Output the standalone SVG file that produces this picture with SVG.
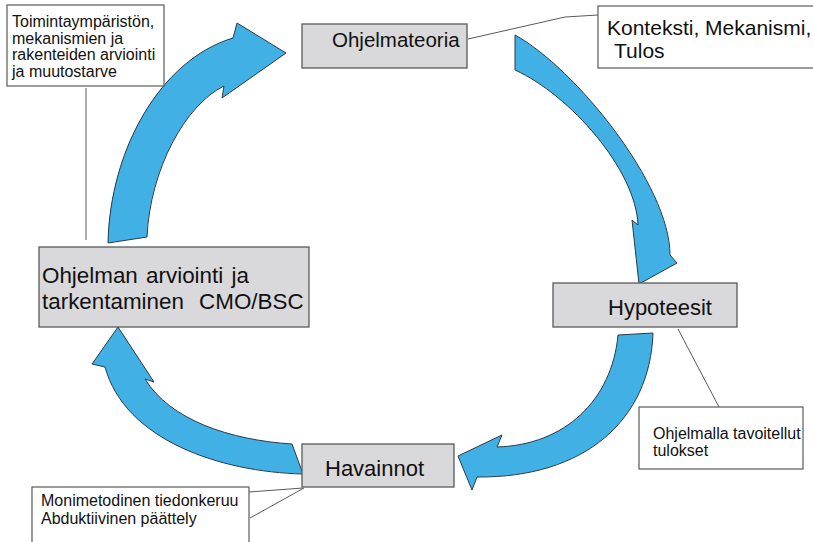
<svg xmlns="http://www.w3.org/2000/svg" width="813" height="542" viewBox="0 0 813 542">
<style>
.box{fill:#d9d8da;stroke:#5a5a5a;stroke-width:1.3}
.note{fill:#ffffff;stroke:#5a5a5a;stroke-width:1.2}
.arrow{fill:#41b1e5;stroke:#2a3a48;stroke-width:1}
.lead{fill:none;stroke:#5a5a5a;stroke-width:1}
text{font-family:"Liberation Sans",Arial,sans-serif;fill:#111}
.big{font-size:22px}
.mid{font-size:21px}
.small{font-size:16px}
</style>
<rect width="813" height="542" fill="#ffffff"/>
<g id="connectors">
<path class="arrow" d="M108,243 C110,150 160,60 233,38 L237,23 L286,53 L222,98 L224,86 C185,105 150,170 147,237 Z"/>
<path class="arrow" d="M515,35 C575,68 670,185 670,255 L677,263 L639,284 L632,220 L638,225 C636,170 570,95 515,70 Z"/>
<path class="arrow" d="M653,333 C650,420 585,478 477,477 L472,490 L458,456 L502,435 L497,447 C565,445 612,400 618,335 Z"/>
<path class="arrow" d="M303,474 C220,472 125,440 105,367 L92,364 L118,327 L154,382 L145,379 C170,420 230,440 292,444 Z"/>
<polyline class="lead" points="468,39 565,17 598,15"/>
<line class="lead" x1="86" y1="88" x2="86" y2="240"/>
<line class="lead" x1="678" y1="329" x2="719" y2="407"/>
<line class="lead" x1="303" y1="488" x2="249" y2="492"/>
<line class="lead" x1="304" y1="488" x2="250" y2="518"/>
</g>
<g id="node-toiminta">
<rect class="note" x="7" y="5" width="157" height="81"/>
<text class="small" x="12" y="27">Toimintaympäristön,</text>
<text class="small" x="12" y="43.7">mekanismien ja</text>
<text class="small" x="12" y="60.4">rakenteiden arviointi</text>
<text class="small" x="12" y="77">ja muutostarve</text>
</g>
<g id="node-ohjelmateoria">
<rect class="box" x="302" y="24" width="165" height="44"/>
<text x="332" y="47" style="font-size:20.5px">Ohjelmateoria</text>
</g>
<g id="node-konteksti">
<rect class="note" x="598" y="6" width="230" height="62"/>
<text class="mid" x="607" y="35">Konteksti, Mekanismi,</text>
<text class="mid" x="614" y="58">Tulos</text>
</g>
<g id="node-hypoteesit">
<rect class="box" x="553" y="283" width="184" height="44"/>
<text class="big" x="608" y="315">Hypoteesit</text>
</g>
<g id="node-ohjelmalla">
<rect class="note" x="639" y="407" width="164" height="62"/>
<text class="small" x="653" y="439">Ohjelmalla tavoitellut</text>
<text class="small" x="653" y="455.5">tulokset</text>
</g>
<g id="node-havainnot">
<rect class="box" x="302" y="444" width="152" height="43"/>
<text class="big" x="325" y="476">Havainnot</text>
</g>
<g id="node-monimetodinen">
<rect class="note" x="32" y="487" width="217" height="70"/>
<text class="small" x="41" y="506">Monimetodinen tiedonkeruu</text>
<text class="small" x="41" y="524">Abduktiivinen päättely</text>
</g>
<g id="node-ohjelman">
<rect class="box" x="39" y="247" width="270" height="80"/>
<text x="42" y="283" style="font-size:22.4px;word-spacing:2px">Ohjelman arviointi ja</text>
<text x="42" y="309" style="font-size:22.4px;word-spacing:9px">tarkentaminen CMO/BSC</text>
</g>
</svg>
